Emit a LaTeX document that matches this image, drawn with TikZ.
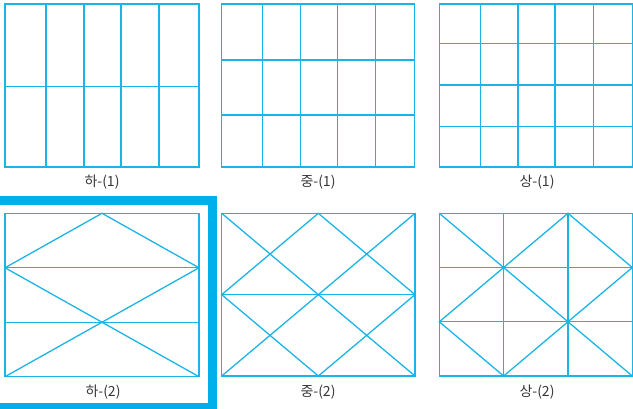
\documentclass[tikz,border=0pt]{standalone}
\usepackage{fontspec}
\newfontfamily\kr{Noto Sans CJK KR}
\definecolor{gridc}{RGB}{28,180,230}
\definecolor{framec}{RGB}{0,176,234}
\definecolor{txt}{RGB}{55,55,55}
\begin{document}
\begin{tikzpicture}[x=1pt,y=-1pt,
  gl/.style={draw=gridc,line width=1.3pt},
  lab/.style={font=\kr\fontsize{14}{16}\selectfont,text=txt,inner sep=0pt}]
\useasboundingbox (0,0) rectangle (633,409);
\clip (0,0) rectangle (633,409);
% panel 1
\draw[gl] (5,4) rectangle (199,167);
\foreach \x in {46,84,121,159} \draw[gl] (\x,4) -- (\x,167);
\draw[gl] (5,86.5) -- (199,86.5);
\node[lab] (l1) at (102,182.5) {하-(1)};
% panel 2
\draw[gl] (221.7,4) rectangle (414.5,167);
\foreach \x in {262.3,300.7,337.3,375.7} \draw[gl] (\x,4) -- (\x,167);
\foreach \y in {60,115} \draw[gl] (221.7,\y) -- (414.5,\y);
\node[lab] (l2) at (318,182.5) {중-(1)};
% panel 3
\draw[gl] (439.3,4) rectangle (632.3,167);
\foreach \x in {480.3,518,555,593.3} \draw[gl] (\x,4) -- (\x,167);
\foreach \y in {43.3,85,126.7} \draw[gl] (439.3,\y) -- (632.3,\y);
\node[lab] (l3) at (537,182.5) {상-(1)};
% panel 4
\begin{scope}[shift={(5,213.3)}]
\def\W{194}\def\H{163.4}
\draw[gl] (0,0) rectangle (\W,\H);
\draw[gl] (0,\H/3) -- (\W,\H/3);
\draw[gl] (0,2*\H/3) -- (\W,2*\H/3);
\draw[gl] (0,\H/3) -- (\W/2,0) -- (\W,\H/3);
\draw[gl] (0,\H/3) -- (\W,\H);
\draw[gl] (\W,\H/3) -- (0,\H);
\end{scope}
\node[lab] (l4) at (103,392.5) {하-(2)};
% panel 5
\begin{scope}[shift={(221.7,213.3)}]
\def\W{193.3}\def\H{162.7}
\draw[gl] (0,0) rectangle (\W,\H);
\draw[gl] (0,\H/2) -- (\W,\H/2);
\draw[gl] (0,0) -- (\W,\H);
\draw[gl] (\W,0) -- (0,\H);
\draw[gl] (\W/2,0) -- (\W,\H/2) -- (\W/2,\H) -- (0,\H/2) -- cycle;
\end{scope}
\node[lab] (l5) at (318,392.5) {중-(2)};
% panel 6
\begin{scope}[shift={(439.3,213.3)}]
\def\W{193}\def\H{162.7}
\draw[gl] (0,0) rectangle (\W,\H);
\draw[gl] (\W/3,0) -- (\W/3,\H);
\draw[gl] (2*\W/3,0) -- (2*\W/3,\H);
\draw[gl] (0,\H/3) -- (\W,\H/3);
\draw[gl] (0,2*\H/3) -- (\W,2*\H/3);
\draw[gl] (0,0) -- (\W,\H);
\draw[gl] (\W/3,\H/3) -- (2*\W/3,0) -- (\W,\H/3) -- (2*\W/3,2*\H/3) -- (\W/3,\H) -- (0,2*\H/3) -- cycle;
\end{scope}
\node[lab] (l6) at (537,392.5) {상-(2)};
% highlight frame
\draw[draw=framec,line width=9pt] (-10,200.5) rectangle (212.5,407.5);
\end{tikzpicture}
\end{document}
